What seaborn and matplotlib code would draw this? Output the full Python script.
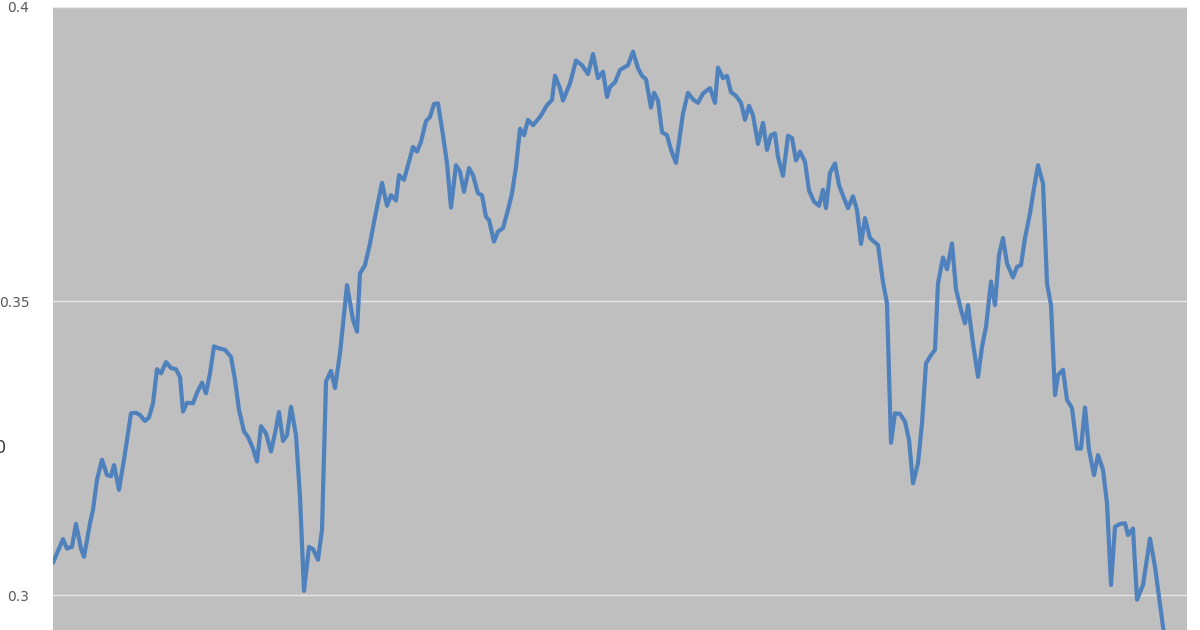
import matplotlib
matplotlib.use("Agg")
import matplotlib.pyplot as plt
import seaborn as sns
import pandas as pd

# time position (arbitrary units along the x axis)
t = [0, 10, 14, 19, 23, 28, 31, 37, 40, 44, 49, 54, 58, 61, 66, 72, 78, 83, 87, 92,
     96, 100, 104, 108, 113, 118, 123, 127, 130, 134, 140, 144, 149, 153, 157, 161, 165, 172, 178, 182,
     186, 191, 195, 200, 204, 208, 213, 218, 222, 226, 230, 234, 238, 243, 247, 251, 256, 260, 265, 269,
     273, 278, 282, 287, 294, 300, 304, 307, 312, 317, 322, 329, 334, 338, 343, 346, 351, 360, 364, 368,
     373, 377, 381, 385, 390, 394, 398, 403, 407, 411, 416, 420, 425, 429, 433, 436, 441, 445, 450, 455,
     459, 463, 467, 471, 475, 480, 487, 494, 499, 502, 507, 510, 517, 523, 529, 535, 540, 545, 550, 554,
     557, 562, 567, 575, 580, 585, 589, 593, 598, 601, 605, 609, 614, 618, 623, 630, 635, 640, 645, 650,
     657, 662, 665, 670, 674, 678, 683, 688, 692, 696, 700, 705, 710, 714, 718, 722, 725, 730, 735, 739,
     743, 747, 752, 756, 761, 766, 770, 773, 777, 782, 786, 791, 795, 800, 804, 808, 812, 817, 821, 825,
     830, 834, 838, 842, 847, 852, 856, 860, 865, 869, 873, 878, 882, 885, 890, 894, 899, 903, 908, 912,
     915, 920, 925, 929, 933, 938, 942, 946, 950, 954, 960, 964, 968, 972, 977, 981, 985, 990, 994, 998,
     1002, 1005, 1010, 1014, 1019, 1024, 1028, 1032, 1036, 1041, 1045, 1050, 1054, 1058, 1062, 1067, 1072, 1075, 1080, 1084,
     1090, 1097, 1102, 1106, 1110, 1114]

values = [0.3055, 0.3095, 0.3079, 0.3082, 0.3121, 0.3079, 0.3065, 0.3122, 0.3145, 0.3196,
          0.3230, 0.3204, 0.3202, 0.3221, 0.3179, 0.3241, 0.3309, 0.3310, 0.3306, 0.3296,
          0.3302, 0.3326, 0.3384, 0.3377, 0.3396, 0.3386, 0.3384, 0.3371, 0.3312, 0.3327,
          0.3326, 0.3344, 0.3361, 0.3343, 0.3377, 0.3423, 0.3420, 0.3417, 0.3405, 0.3366,
          0.3315, 0.3278, 0.3269, 0.3249, 0.3227, 0.3287, 0.3275, 0.3244, 0.3275, 0.3311,
          0.3262, 0.3272, 0.3320, 0.3272, 0.3167, 0.3007, 0.3082, 0.3078, 0.3060, 0.3111,
          0.3363, 0.3381, 0.3352, 0.3411, 0.3527, 0.3468, 0.3448, 0.3547, 0.3561, 0.3598,
          0.3643, 0.3701, 0.3662, 0.3680, 0.3671, 0.3714, 0.3706, 0.3762, 0.3754, 0.3771,
          0.3806, 0.3813, 0.3835, 0.3836, 0.3782, 0.3734, 0.3659, 0.3731, 0.3720, 0.3686,
          0.3726, 0.3714, 0.3683, 0.3680, 0.3643, 0.3638, 0.3601, 0.3618, 0.3624, 0.3655,
          0.3683, 0.3728, 0.3793, 0.3782, 0.3808, 0.3799, 0.3813, 0.3833, 0.3842, 0.3883,
          0.3862, 0.3841, 0.3870, 0.3909, 0.3901, 0.3886, 0.3920, 0.3879, 0.3890, 0.3847,
          0.3864, 0.3872, 0.3893, 0.3901, 0.3924, 0.3896, 0.3883, 0.3877, 0.3829, 0.3854,
          0.3841, 0.3787, 0.3782, 0.3757, 0.3735, 0.3819, 0.3854, 0.3843, 0.3837, 0.3853,
          0.3862, 0.3837, 0.3897, 0.3879, 0.3883, 0.3855, 0.3849, 0.3837, 0.3808, 0.3832,
          0.3816, 0.3767, 0.3803, 0.3757, 0.3782, 0.3785, 0.3745, 0.3713, 0.3781, 0.3777,
          0.3739, 0.3754, 0.3737, 0.3688, 0.3669, 0.3662, 0.3689, 0.3658, 0.3718, 0.3734,
          0.3697, 0.3675, 0.3658, 0.3678, 0.3655, 0.3597, 0.3641, 0.3607, 0.3601, 0.3595,
          0.3532, 0.3496, 0.3259, 0.3309, 0.3308, 0.3295, 0.3264, 0.3190, 0.3224, 0.3292,
          0.3394, 0.3408, 0.3417, 0.3530, 0.3574, 0.3554, 0.3598, 0.3520, 0.3485, 0.3462,
          0.3493, 0.3428, 0.3371, 0.3422, 0.3456, 0.3533, 0.3493, 0.3578, 0.3607, 0.3564,
          0.3540, 0.3558, 0.3561, 0.3607, 0.3649, 0.3692, 0.3731, 0.3700, 0.3530, 0.3493,
          0.3340, 0.3374, 0.3383, 0.3332, 0.3318, 0.3249, 0.3249, 0.3319, 0.3247, 0.3204,
          0.3238, 0.3213, 0.3156, 0.3017, 0.3116, 0.3121, 0.3122, 0.3102, 0.3113, 0.2992,
          0.3017, 0.3096, 0.3048, 0.2997, 0.2946, 0.2906]

y_ticks = [0.3, 0.35, 0.4]
y_tick_labels = ["0.3", "0.35", "0.4"]

df = pd.DataFrame({"t": t, "value": values})

sns.set_theme(style="white")
plt.rcParams["font.family"] = ["DejaVu Sans"]

fig = plt.figure(figsize=(12, 6.3), dpi=100)
ax = fig.add_axes([53 / 1200, 0.0, (1187 - 53) / 1200, 1 - 7 / 630])
ax.set_facecolor("#bfbfbf")

sns.lineplot(data=df, x="t", y="value", ax=ax, color="#4f81bd", linewidth=3.0,
             solid_joinstyle="round", solid_capstyle="round")

ax.set_xlim(0, 1134)
ax.set_ylim(0.29405, 0.4)
ax.set_yticks(y_ticks)
ax.set_yticklabels(y_tick_labels, color="#595959", fontsize=10)
ax.set_xticks([])
ax.tick_params(axis="y", length=0, pad=17)
ax.grid(axis="y", color="#e6e6e6", linewidth=1.0)
ax.set_axisbelow(True)
for s in ax.spines.values():
    s.set_visible(False)
ax.set_xlabel("")
ax.set_ylabel("")

# partially visible glyph at the left border
fig.text(-0.0045, 1 - 448 / 630, "0", fontsize=13, color="#404040", va="center", ha="left")

fig.savefig("out.png", dpi=100)
